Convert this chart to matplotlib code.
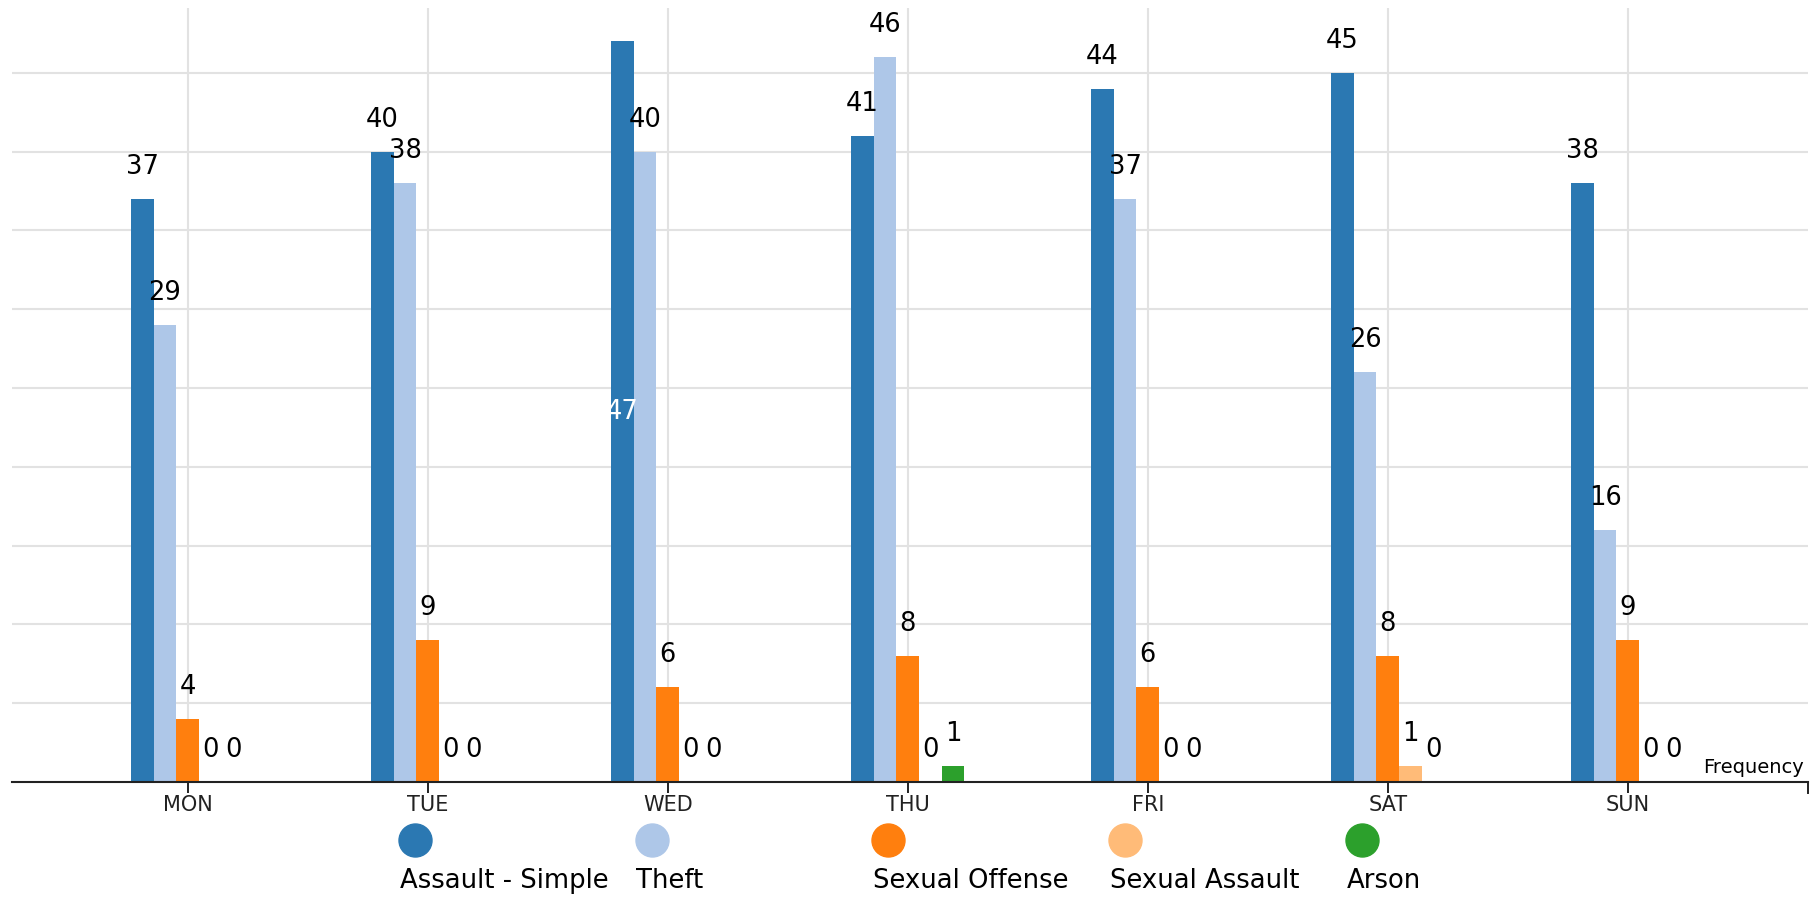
import matplotlib.pyplot as plt
import numpy as np

days = ["MON", "TUE", "WED", "THU", "FRI", "SAT", "SUN"]
series = ["Assault - Simple", "Theft", "Sexual Offense", "Sexual Assault", "Arson"]
assault_simple = [37, 40, 47, 41, 44, 45, 38]
theft = [29, 38, 40, 46, 37, 26, 16]
sexual_offense = [4, 9, 6, 8, 6, 8, 9]
sexual_assault = [0, 0, 0, 0, 0, 1, 0]
arson = [0, 0, 0, 1, 0, 0, 0]
values = [assault_simple, theft, sexual_offense, sexual_assault, arson]
colors = ["#2b78b2", "#aec7e8", "#ff7f0e", "#ffbb78", "#2ca02c"]
# label drawn inside the bar (white) instead of on top
inside_labels = [("WED", "Assault - Simple")]

W, H = 1814, 899
fig = plt.figure(figsize=(W / 100, H / 100), dpi=100)
plt.rcParams["font.family"] = "DejaVu Sans"

ax = fig.add_axes([11.5 / W, 117 / H, (1808 - 11.5) / W, (782 - 8.3) / H])
bw = 0.0946
x = np.arange(len(days))

for j, name in enumerate(series):
    xs = x + (j - 2) * bw
    ax.bar(xs, values[j], width=bw, color=colors[j], zorder=3)
    for i, v in enumerate(values[j]):
        if (days[i], name) in inside_labels:
            ax.text(xs[i], v / 2, str(v), ha="center", va="center",
                    color="white", fontsize=18.5, zorder=4)
        else:
            ax.annotate(str(v), (xs[i], v), xytext=(0, 18), textcoords="offset points",
                        ha="center", va="baseline", fontsize=18.5, color="black", zorder=4)

ax.set_xlim(-0.734, 6.751)
ax.set_ylim(0, 49.1)
ax.set_xticks(x)
ax.set_xticklabels(days, fontsize=15, color="#222")
ax.set_yticks(np.arange(5, 50, 5))
ax.tick_params(axis="y", length=0, labelleft=False)
ax.tick_params(axis="x", length=8, width=1.4, color="#222", pad=1.5)
ax.grid(True, color="#e2e2e2", linewidth=1.5, zorder=0)
for side in ["top", "left", "right"]:
    ax.spines[side].set_visible(False)
ax.spines["bottom"].set_color("#222")
ax.spines["bottom"].set_linewidth(1.5)
ax.spines["bottom"].set_zorder(5)
# outer tick at the right end of the axis
ax.plot([1, 1], [0, -0.014], transform=ax.transAxes, color="#222", lw=1.4, clip_on=False)
ax.text(0.9975, 0.006, "Frequency", transform=ax.transAxes, ha="right", va="bottom",
        fontsize=14, color="black")

# legend: circles with names underneath
lax = fig.add_axes([0, 0, 1, 1])
lax.set_xlim(0, W)
lax.set_ylim(H, 0)
lax.axis("off")
lax.patch.set_visible(False)
for j, name in enumerate(series):
    cx = 414.7 + j * 236.8
    lax.scatter([cx], [840], s=(33 * 0.72) ** 2, color=colors[j])
    lax.text(cx - 15, 888, name, ha="left", va="baseline", fontsize=18.6, color="black")

fig.savefig("out.png", dpi=100)
